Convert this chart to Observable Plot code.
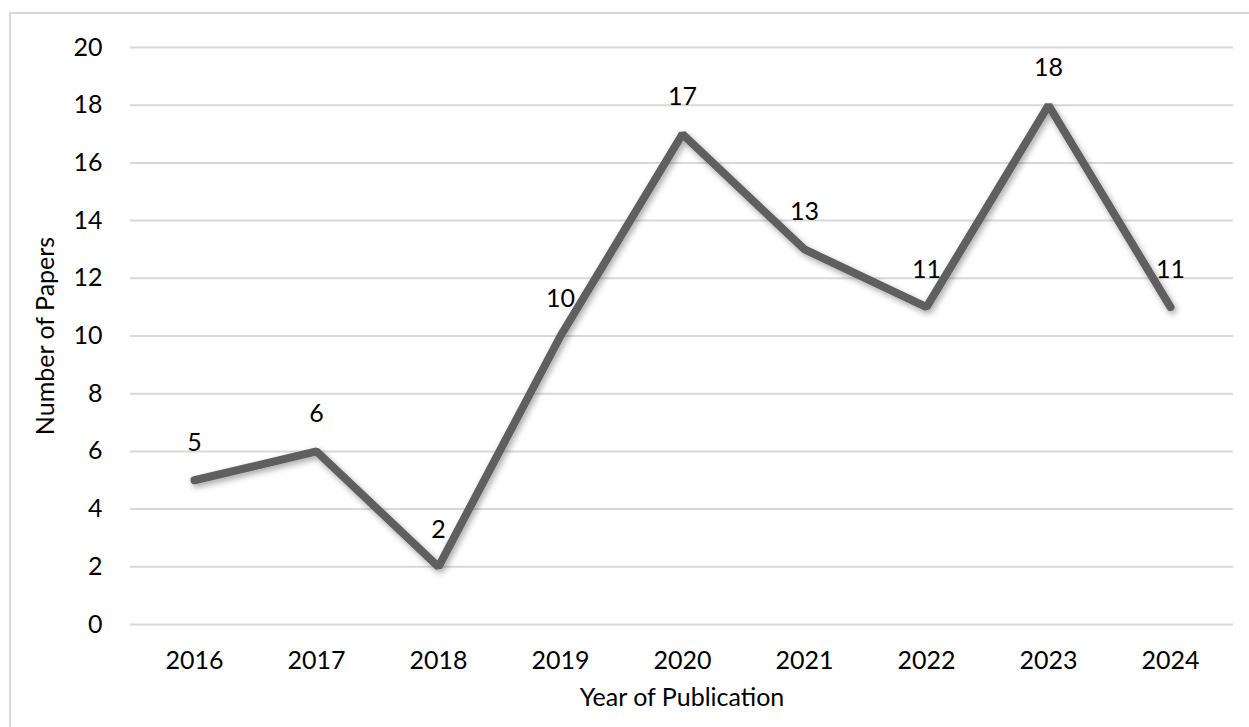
<!DOCTYPE html>
<html>
<head>
<meta charset="utf-8">
<script src="https://cdn.jsdelivr.net/npm/d3@7"></script>
<script src="https://cdn.jsdelivr.net/npm/@observablehq/plot@0.6"></script>
<style>
  html, body { margin: 0; padding: 0; background: #fff; overflow: hidden; width: 1249px; height: 727px; }
  #frame { position: absolute; left: 9px; top: 12px; width: 1300px; height: 800px; border: 2px solid #d9d9d9; box-sizing: border-box; }
  #chart { position: absolute; left: 0; top: 0; }
</style>
</head>
<body>
<div id="frame"></div>
<div id="chart"></div>
<script>
const years = ["2016", "2017", "2018", "2019", "2020", "2021", "2022", "2023", "2024"];
const papers = [5, 6, 2, 10, 17, 13, 11, 18, 11];
const yTicks = [0, 2, 4, 6, 8, 10, 12, 14, 16, 18, 20];
const xTitle = "Year of Publication";
const yTitle = "Number of Papers";

const data = years.map((year, i) => ({year, papers: papers[i]}));
const font = "Lato, 'Open Sans', sans-serif";
const fs = 25;

const chart = Plot.plot({
  width: 1249,
  height: 727,
  marginLeft: 130,
  marginRight: 16,
  marginTop: 47,
  marginBottom: 103,
  style: {fontFamily: font, fontSize: fs + "px", color: "#000", background: "transparent"},
  x: {type: "point", domain: years, padding: 0.5, label: null},
  y: {domain: [0, 20], ticks: yTicks, label: null},
  marks: [
    Plot.ruleY(yTicks, {stroke: "#d9d9d9", strokeWidth: 2}),
    Plot.axisY(yTicks, {tickSize: 0, tickPadding: 28, fontSize: fs, label: null}),
    Plot.axisX(years, {tickSize: 0, tickPadding: 27, fontSize: fs, label: null}),
    Plot.line(data, {x: "year", y: "papers", stroke: "#5f5f5f", strokeWidth: 8, strokeLinecap: "round", strokeLinejoin: "miter", className: "dataline"}),
    Plot.text(data, {x: "year", y: "papers", text: d => String(d.papers), dy: -37, lineAnchor: "middle", fontSize: fs, fill: "#000"}),
    Plot.text([yTitle], {frameAnchor: "left", rotate: -90, dx: -85, textAnchor: "middle", lineAnchor: "middle", fontSize: fs, fill: "#000"}),
    Plot.text([xTitle], {frameAnchor: "bottom", dy: 73, textAnchor: "middle", lineAnchor: "middle", fontSize: fs, fill: "#000"})
  ]
});

// drop shadow for the line
const ns = "http://www.w3.org/2000/svg";
const defs = document.createElementNS(ns, "defs");
defs.innerHTML = '<filter id="shadow" x="-10%" y="-10%" width="120%" height="130%"><feDropShadow dx="2" dy="3" stdDeviation="3" flood-color="#000" flood-opacity="0.35"/></filter>';
chart.insertBefore(defs, chart.firstChild);
const lineG = chart.querySelector(".dataline");
if (lineG) lineG.setAttribute("filter", "url(#shadow)");

document.getElementById("chart").appendChild(chart);
</script>
</body>
</html>
